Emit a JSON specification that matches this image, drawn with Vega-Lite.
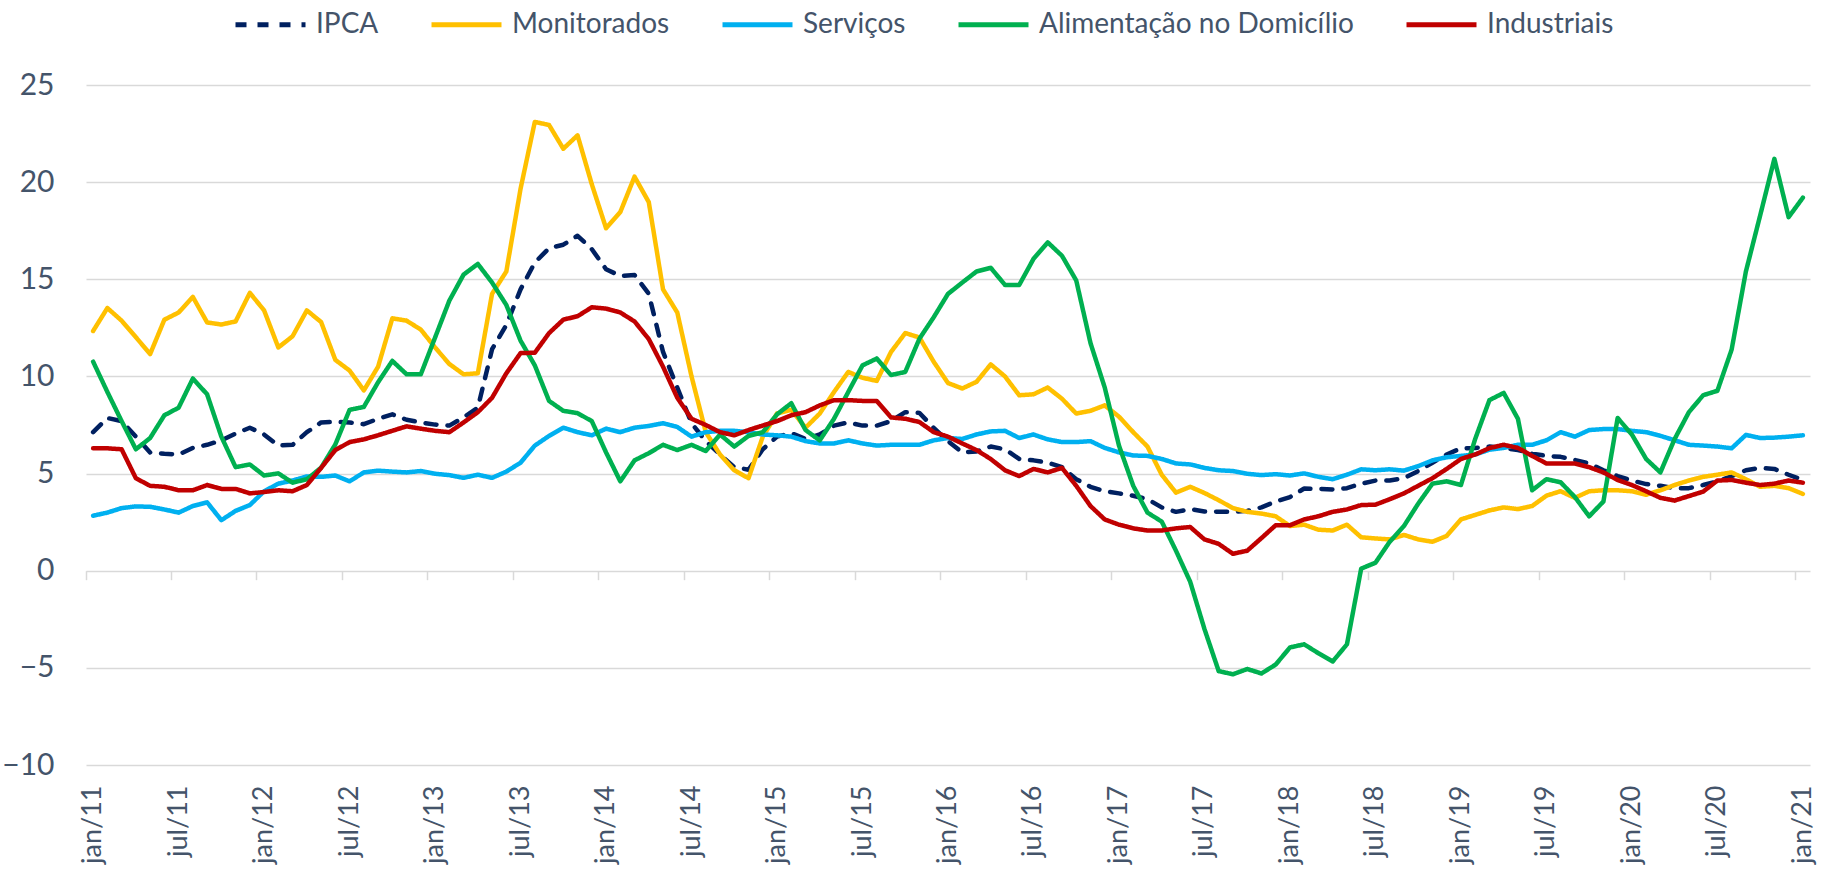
{
  "$schema": "https://vega.github.io/schema/vega-lite/v6.json",
  "width": 1724,
  "height": 680,
  "autosize": {"type": "none"},
  "padding": {"left": 86, "top": 85, "right": 14, "bottom": 107},
  "background": "white",
  "config": {"view": {"stroke": null}, "font": "Lato"},
  "data": {"values": [
    {"mes":"jan/11","IPCA":7.13,"Monitorados":12.34,"Serviços":2.83,"Alimentação no Domicílio":10.76,"Industriais":6.3},
    {"mes":"fev/11","IPCA":7.86,"Monitorados":13.52,"Serviços":2.99,"Alimentação no Domicílio":9.2,"Industriais":6.3},
    {"mes":"mar/11","IPCA":7.7,"Monitorados":12.87,"Serviços":3.22,"Alimentação no Domicílio":7.7,"Industriais":6.25},
    {"mes":"abr/11","IPCA":6.9,"Monitorados":12.02,"Serviços":3.31,"Alimentação no Domicílio":6.25,"Industriais":4.76},
    {"mes":"mai/11","IPCA":6.09,"Monitorados":11.15,"Serviços":3.29,"Alimentação no Domicílio":6.83,"Industriais":4.37},
    {"mes":"jun/11","IPCA":6.02,"Monitorados":12.92,"Serviços":3.15,"Alimentação no Domicílio":8.0,"Industriais":4.32},
    {"mes":"jul/11","IPCA":5.98,"Monitorados":13.29,"Serviços":2.99,"Alimentação no Domicílio":8.39,"Industriais":4.14},
    {"mes":"ago/11","IPCA":6.32,"Monitorados":14.09,"Serviços":3.33,"Alimentação no Domicílio":9.89,"Industriais":4.14},
    {"mes":"set/11","IPCA":6.48,"Monitorados":12.78,"Serviços":3.52,"Alimentação no Domicílio":9.08,"Industriais":4.41},
    {"mes":"out/11","IPCA":6.71,"Monitorados":12.67,"Serviços":2.6,"Alimentação no Domicílio":6.9,"Industriais":4.21},
    {"mes":"nov/11","IPCA":7.06,"Monitorados":12.83,"Serviços":3.08,"Alimentação no Domicílio":5.33,"Industriais":4.21},
    {"mes":"dez/11","IPCA":7.36,"Monitorados":14.3,"Serviços":3.38,"Alimentação no Domicílio":5.47,"Industriais":3.98},
    {"mes":"jan/12","IPCA":7.01,"Monitorados":13.4,"Serviços":4.09,"Alimentação no Domicílio":4.9,"Industriais":4.05},
    {"mes":"fev/12","IPCA":6.44,"Monitorados":11.49,"Serviços":4.48,"Alimentação no Domicílio":5.01,"Industriais":4.14},
    {"mes":"mar/12","IPCA":6.48,"Monitorados":12.07,"Serviços":4.64,"Alimentação no Domicílio":4.53,"Industriais":4.09},
    {"mes":"abr/12","IPCA":7.13,"Monitorados":13.4,"Serviços":4.85,"Alimentação no Domicílio":4.71,"Industriais":4.41},
    {"mes":"mai/12","IPCA":7.63,"Monitorados":12.8,"Serviços":4.83,"Alimentação no Domicílio":5.3,"Industriais":5.29},
    {"mes":"jun/12","IPCA":7.66,"Monitorados":10.85,"Serviços":4.9,"Alimentação no Domicílio":6.5,"Industriais":6.21},
    {"mes":"jul/12","IPCA":7.63,"Monitorados":10.3,"Serviços":4.6,"Alimentação no Domicílio":8.28,"Industriais":6.62},
    {"mes":"ago/12","IPCA":7.54,"Monitorados":9.28,"Serviços":5.06,"Alimentação no Domicílio":8.43,"Industriais":6.76},
    {"mes":"set/12","IPCA":7.82,"Monitorados":10.5,"Serviços":5.15,"Alimentação no Domicílio":9.7,"Industriais":6.97},
    {"mes":"out/12","IPCA":8.05,"Monitorados":12.99,"Serviços":5.1,"Alimentação no Domicílio":10.8,"Industriais":7.2},
    {"mes":"nov/12","IPCA":7.77,"Monitorados":12.87,"Serviços":5.06,"Alimentação no Domicílio":10.11,"Industriais":7.43},
    {"mes":"dez/12","IPCA":7.63,"Monitorados":12.41,"Serviços":5.13,"Alimentação no Domicílio":10.11,"Industriais":7.31},
    {"mes":"jan/13","IPCA":7.52,"Monitorados":11.49,"Serviços":4.99,"Alimentação no Domicílio":12.0,"Industriais":7.2},
    {"mes":"fev/13","IPCA":7.47,"Monitorados":10.64,"Serviços":4.92,"Alimentação no Domicílio":13.9,"Industriais":7.13},
    {"mes":"mar/13","IPCA":7.89,"Monitorados":10.11,"Serviços":4.78,"Alimentação no Domicílio":15.24,"Industriais":7.63},
    {"mes":"abr/13","IPCA":8.39,"Monitorados":10.16,"Serviços":4.94,"Alimentação no Domicílio":15.79,"Industriais":8.16},
    {"mes":"mai/13","IPCA":11.4,"Monitorados":14.25,"Serviços":4.78,"Alimentação no Domicílio":14.83,"Industriais":8.9},
    {"mes":"jun/13","IPCA":12.64,"Monitorados":15.4,"Serviços":5.1,"Alimentação no Domicílio":13.68,"Industriais":10.16},
    {"mes":"jul/13","IPCA":14.48,"Monitorados":19.66,"Serviços":5.56,"Alimentação no Domicílio":11.84,"Industriais":11.2},
    {"mes":"ago/13","IPCA":15.86,"Monitorados":23.1,"Serviços":6.44,"Alimentação no Domicílio":10.57,"Industriais":11.22},
    {"mes":"set/13","IPCA":16.6,"Monitorados":22.94,"Serviços":6.94,"Alimentação no Domicílio":8.74,"Industriais":12.23},
    {"mes":"out/13","IPCA":16.78,"Monitorados":21.72,"Serviços":7.36,"Alimentação no Domicílio":8.23,"Industriais":12.92},
    {"mes":"nov/13","IPCA":17.24,"Monitorados":22.41,"Serviços":7.13,"Alimentação no Domicílio":8.11,"Industriais":13.1},
    {"mes":"dez/13","IPCA":16.55,"Monitorados":19.89,"Serviços":6.97,"Alimentação no Domicílio":7.7,"Industriais":13.56},
    {"mes":"jan/14","IPCA":15.52,"Monitorados":17.63,"Serviços":7.31,"Alimentação no Domicílio":6.09,"Industriais":13.49},
    {"mes":"fev/14","IPCA":15.17,"Monitorados":18.46,"Serviços":7.13,"Alimentação no Domicílio":4.6,"Industriais":13.29},
    {"mes":"mar/14","IPCA":15.22,"Monitorados":20.28,"Serviços":7.36,"Alimentação no Domicílio":5.68,"Industriais":12.83},
    {"mes":"abr/14","IPCA":14.25,"Monitorados":18.97,"Serviços":7.45,"Alimentação no Domicílio":6.05,"Industriais":11.92},
    {"mes":"mai/14","IPCA":11.26,"Monitorados":14.48,"Serviços":7.59,"Alimentação no Domicílio":6.48,"Industriais":10.5},
    {"mes":"jun/14","IPCA":9.43,"Monitorados":13.29,"Serviços":7.4,"Alimentação no Domicílio":6.21,"Industriais":8.9},
    {"mes":"jul/14","IPCA":7.59,"Monitorados":10.0,"Serviços":6.9,"Alimentação no Domicílio":6.48,"Industriais":7.82},
    {"mes":"ago/14","IPCA":6.67,"Monitorados":7.13,"Serviços":7.13,"Alimentação no Domicílio":6.16,"Industriais":7.5},
    {"mes":"set/14","IPCA":5.98,"Monitorados":5.98,"Serviços":7.2,"Alimentação no Domicílio":7.01,"Industriais":7.13},
    {"mes":"out/14","IPCA":5.33,"Monitorados":5.17,"Serviços":7.2,"Alimentação no Domicílio":6.39,"Industriais":6.97},
    {"mes":"nov/14","IPCA":5.2,"Monitorados":4.76,"Serviços":7.13,"Alimentação no Domicílio":6.94,"Industriais":7.24},
    {"mes":"dez/14","IPCA":6.25,"Monitorados":6.9,"Serviços":7.01,"Alimentação no Domicílio":7.13,"Industriais":7.47},
    {"mes":"jan/15","IPCA":6.9,"Monitorados":8.09,"Serviços":6.97,"Alimentação no Domicílio":8.05,"Industriais":7.7},
    {"mes":"fev/15","IPCA":7.08,"Monitorados":8.28,"Serviços":6.9,"Alimentação no Domicílio":8.62,"Industriais":8.0},
    {"mes":"mar/15","IPCA":6.78,"Monitorados":7.36,"Serviços":6.67,"Alimentação no Domicílio":7.24,"Industriais":8.16},
    {"mes":"abr/15","IPCA":7.01,"Monitorados":8.09,"Serviços":6.55,"Alimentação no Domicílio":6.71,"Industriais":8.51},
    {"mes":"mai/15","IPCA":7.47,"Monitorados":9.2,"Serviços":6.55,"Alimentação no Domicílio":7.82,"Industriais":8.78},
    {"mes":"jun/15","IPCA":7.63,"Monitorados":10.23,"Serviços":6.71,"Alimentação no Domicílio":9.2,"Industriais":8.78},
    {"mes":"jul/15","IPCA":7.47,"Monitorados":9.93,"Serviços":6.55,"Alimentação no Domicílio":10.57,"Industriais":8.74},
    {"mes":"ago/15","IPCA":7.47,"Monitorados":9.77,"Serviços":6.44,"Alimentação no Domicílio":10.92,"Industriais":8.74},
    {"mes":"set/15","IPCA":7.7,"Monitorados":11.26,"Serviços":6.48,"Alimentação no Domicílio":10.07,"Industriais":7.89},
    {"mes":"out/15","IPCA":8.16,"Monitorados":12.23,"Serviços":6.48,"Alimentação no Domicílio":10.23,"Industriais":7.82},
    {"mes":"nov/15","IPCA":8.12,"Monitorados":12.0,"Serviços":6.48,"Alimentação no Domicílio":11.95,"Industriais":7.65},
    {"mes":"dez/15","IPCA":7.35,"Monitorados":10.75,"Serviços":6.71,"Alimentação no Domicílio":13.05,"Industriais":7.13},
    {"mes":"jan/16","IPCA":6.67,"Monitorados":9.66,"Serviços":6.83,"Alimentação no Domicílio":14.25,"Industriais":6.9},
    {"mes":"fev/16","IPCA":6.09,"Monitorados":9.38,"Serviços":6.78,"Alimentação no Domicílio":14.83,"Industriais":6.55},
    {"mes":"mar/16","IPCA":6.14,"Monitorados":9.72,"Serviços":7.01,"Alimentação no Domicílio":15.4,"Industriais":6.21},
    {"mes":"abr/16","IPCA":6.39,"Monitorados":10.62,"Serviços":7.17,"Alimentação no Domicílio":15.59,"Industriais":5.75},
    {"mes":"mai/16","IPCA":6.25,"Monitorados":10.0,"Serviços":7.2,"Alimentação no Domicílio":14.71,"Industriais":5.17},
    {"mes":"jun/16","IPCA":5.75,"Monitorados":9.03,"Serviços":6.83,"Alimentação no Domicílio":14.71,"Industriais":4.87},
    {"mes":"jul/16","IPCA":5.68,"Monitorados":9.08,"Serviços":7.01,"Alimentação no Domicílio":16.05,"Industriais":5.24},
    {"mes":"ago/16","IPCA":5.56,"Monitorados":9.43,"Serviços":6.76,"Alimentação no Domicílio":16.9,"Industriais":5.06},
    {"mes":"set/16","IPCA":5.33,"Monitorados":8.85,"Serviços":6.62,"Alimentação no Domicílio":16.21,"Industriais":5.29},
    {"mes":"out/16","IPCA":4.71,"Monitorados":8.09,"Serviços":6.62,"Alimentação no Domicílio":14.94,"Industriais":4.37},
    {"mes":"nov/16","IPCA":4.32,"Monitorados":8.23,"Serviços":6.67,"Alimentação no Domicílio":11.72,"Industriais":3.33},
    {"mes":"dez/16","IPCA":4.09,"Monitorados":8.51,"Serviços":6.32,"Alimentação no Domicílio":9.43,"Industriais":2.64},
    {"mes":"jan/17","IPCA":3.98,"Monitorados":7.93,"Serviços":6.09,"Alimentação no Domicílio":6.44,"Industriais":2.37},
    {"mes":"fev/17","IPCA":3.86,"Monitorados":7.13,"Serviços":5.93,"Alimentação no Domicílio":4.37,"Industriais":2.18},
    {"mes":"mar/17","IPCA":3.68,"Monitorados":6.39,"Serviços":5.91,"Alimentação no Domicílio":2.99,"Industriais":2.07},
    {"mes":"abr/17","IPCA":3.26,"Monitorados":4.94,"Serviços":5.75,"Alimentação no Domicílio":2.53,"Industriais":2.07},
    {"mes":"mai/17","IPCA":3.03,"Monitorados":4.02,"Serviços":5.52,"Alimentação no Domicílio":1.03,"Industriais":2.18},
    {"mes":"jun/17","IPCA":3.17,"Monitorados":4.32,"Serviços":5.47,"Alimentação no Domicílio":-0.57,"Industriais":2.25},
    {"mes":"jul/17","IPCA":3.05,"Monitorados":4.0,"Serviços":5.29,"Alimentação no Domicílio":-3.0,"Industriais":1.61},
    {"mes":"ago/17","IPCA":3.03,"Monitorados":3.63,"Serviços":5.17,"Alimentação no Domicílio":-5.17,"Industriais":1.38},
    {"mes":"set/17","IPCA":3.03,"Monitorados":3.22,"Serviços":5.13,"Alimentação no Domicílio":-5.33,"Industriais":0.87},
    {"mes":"out/17","IPCA":3.08,"Monitorados":3.03,"Serviços":4.99,"Alimentação no Domicílio":-5.06,"Industriais":1.03},
    {"mes":"nov/17","IPCA":3.26,"Monitorados":2.94,"Serviços":4.92,"Alimentação no Domicílio":-5.29,"Industriais":1.68},
    {"mes":"dez/17","IPCA":3.56,"Monitorados":2.8,"Serviços":4.97,"Alimentação no Domicílio":-4.83,"Industriais":2.34},
    {"mes":"jan/18","IPCA":3.79,"Monitorados":2.3,"Serviços":4.9,"Alimentação no Domicílio":-3.95,"Industriais":2.34},
    {"mes":"fev/18","IPCA":4.23,"Monitorados":2.37,"Serviços":5.01,"Alimentação no Domicílio":-3.79,"Industriais":2.64},
    {"mes":"mar/18","IPCA":4.21,"Monitorados":2.11,"Serviços":4.83,"Alimentação no Domicílio":-4.25,"Industriais":2.8},
    {"mes":"abr/18","IPCA":4.18,"Monitorados":2.07,"Serviços":4.71,"Alimentação no Domicílio":-4.67,"Industriais":3.03},
    {"mes":"mai/18","IPCA":4.25,"Monitorados":2.37,"Serviços":4.94,"Alimentação no Domicílio":-3.79,"Industriais":3.15},
    {"mes":"jun/18","IPCA":4.48,"Monitorados":1.72,"Serviços":5.22,"Alimentação no Domicílio":0.11,"Industriais":3.38},
    {"mes":"jul/18","IPCA":4.64,"Monitorados":1.66,"Serviços":5.17,"Alimentação no Domicílio":0.41,"Industriais":3.4},
    {"mes":"ago/18","IPCA":4.64,"Monitorados":1.61,"Serviços":5.22,"Alimentação no Domicílio":1.49,"Industriais":3.68},
    {"mes":"set/18","IPCA":4.76,"Monitorados":1.84,"Serviços":5.15,"Alimentação no Domicílio":2.3,"Industriais":3.98},
    {"mes":"out/18","IPCA":5.13,"Monitorados":1.61,"Serviços":5.38,"Alimentação no Domicílio":3.45,"Industriais":4.37},
    {"mes":"nov/18","IPCA":5.56,"Monitorados":1.49,"Serviços":5.68,"Alimentação no Domicílio":4.48,"Industriais":4.76},
    {"mes":"dez/18","IPCA":5.98,"Monitorados":1.79,"Serviços":5.84,"Alimentação no Domicílio":4.6,"Industriais":5.24},
    {"mes":"jan/19","IPCA":6.3,"Monitorados":2.64,"Serviços":5.91,"Alimentação no Domicílio":4.41,"Industriais":5.75},
    {"mes":"fev/19","IPCA":6.32,"Monitorados":2.87,"Serviços":5.98,"Alimentação no Domicílio":6.78,"Industriais":5.98},
    {"mes":"mar/19","IPCA":6.39,"Monitorados":3.1,"Serviços":6.23,"Alimentação no Domicílio":8.78,"Industriais":6.31},
    {"mes":"abr/19","IPCA":6.32,"Monitorados":3.26,"Serviços":6.32,"Alimentação no Domicílio":9.15,"Industriais":6.48},
    {"mes":"mai/19","IPCA":6.21,"Monitorados":3.17,"Serviços":6.48,"Alimentação no Domicílio":7.82,"Industriais":6.32},
    {"mes":"jun/19","IPCA":6.02,"Monitorados":3.33,"Serviços":6.48,"Alimentação no Domicílio":4.14,"Industriais":5.91},
    {"mes":"jul/19","IPCA":5.91,"Monitorados":3.86,"Serviços":6.71,"Alimentação no Domicílio":4.71,"Industriais":5.52},
    {"mes":"ago/19","IPCA":5.86,"Monitorados":4.09,"Serviços":7.13,"Alimentação no Domicílio":4.55,"Industriais":5.52},
    {"mes":"set/19","IPCA":5.7,"Monitorados":3.75,"Serviços":6.9,"Alimentação no Domicílio":3.79,"Industriais":5.52},
    {"mes":"out/19","IPCA":5.52,"Monitorados":4.09,"Serviços":7.24,"Alimentação no Domicílio":2.8,"Industriais":5.33},
    {"mes":"nov/19","IPCA":5.17,"Monitorados":4.14,"Serviços":7.29,"Alimentação no Domicílio":3.56,"Industriais":5.06},
    {"mes":"dez/19","IPCA":4.87,"Monitorados":4.14,"Serviços":7.29,"Alimentação no Domicílio":7.86,"Industriais":4.67},
    {"mes":"jan/20","IPCA":4.64,"Monitorados":4.09,"Serviços":7.2,"Alimentação no Domicílio":7.01,"Industriais":4.41},
    {"mes":"fev/20","IPCA":4.46,"Monitorados":3.91,"Serviços":7.13,"Alimentação no Domicílio":5.75,"Industriais":4.09},
    {"mes":"mar/20","IPCA":4.37,"Monitorados":4.14,"Serviços":6.94,"Alimentação no Domicílio":5.06,"Industriais":3.75},
    {"mes":"abr/20","IPCA":4.25,"Monitorados":4.41,"Serviços":6.71,"Alimentação no Domicílio":6.78,"Industriais":3.61},
    {"mes":"mai/20","IPCA":4.25,"Monitorados":4.64,"Serviços":6.48,"Alimentação no Domicílio":8.16,"Industriais":3.84},
    {"mes":"jun/20","IPCA":4.41,"Monitorados":4.83,"Serviços":6.44,"Alimentação no Domicílio":9.03,"Industriais":4.07},
    {"mes":"jul/20","IPCA":4.6,"Monitorados":4.94,"Serviços":6.39,"Alimentação no Domicílio":9.26,"Industriais":4.64},
    {"mes":"ago/20","IPCA":4.87,"Monitorados":5.06,"Serviços":6.3,"Alimentação no Domicílio":11.38,"Industriais":4.67},
    {"mes":"set/20","IPCA":5.17,"Monitorados":4.71,"Serviços":6.99,"Alimentação no Domicílio":15.4,"Industriais":4.53},
    {"mes":"out/20","IPCA":5.29,"Monitorados":4.32,"Serviços":6.83,"Alimentação no Domicílio":18.28,"Industriais":4.41},
    {"mes":"nov/20","IPCA":5.24,"Monitorados":4.37,"Serviços":6.85,"Alimentação no Domicílio":21.2,"Industriais":4.48},
    {"mes":"dez/20","IPCA":4.94,"Monitorados":4.25,"Serviços":6.9,"Alimentação no Domicílio":18.2,"Industriais":4.64},
    {"mes":"jan/21","IPCA":4.67,"Monitorados":3.95,"Serviços":6.97,"Alimentação no Domicílio":19.2,"Industriais":4.53}
  ]},
  "transform": [
    {"fold": ["IPCA", "Monitorados", "Serviços", "Alimentação no Domicílio", "Industriais"], "as": ["serie", "valor"]}
  ],
  "layer": [
    {
      "mark": {"type": "point", "opacity": 0},
      "encoding": {
        "x": {
          "field": "mes", "type": "ordinal", "sort": null,
          "scale": {"type": "band", "paddingInner": 0, "paddingOuter": 0},
          "axis": {
            "orient": "bottom", "title": null, "bandPosition": 0,
            "values": ["jan/11","jul/11","jan/12","jul/12","jan/13","jul/13","jan/14","jul/14","jan/15","jul/15","jan/16","jul/16","jan/17","jul/17","jan/18","jul/18","jan/19","jul/19","jan/20","jul/20","jan/21"],
            "labels": false, "ticks": true, "tickSize": 9, "tickColor": "#D9D9D9", "tickWidth": 1.5,
            "domain": false, "grid": false, "offset": -194.3
          }
        }
      }
    },
    {
      "mark": {"type": "line", "strokeWidth": 4.5, "strokeCap": "round", "strokeJoin": "round"},
      "encoding": {
        "x": {
          "field": "mes", "type": "ordinal", "sort": null, "bandPosition": 0.5,
          "scale": {"type": "band", "paddingInner": 0, "paddingOuter": 0},
          "axis": {
            "orient": "bottom", "title": null,
            "values": ["jan/11","jul/11","jan/12","jul/12","jan/13","jul/13","jan/14","jul/14","jan/15","jul/15","jan/16","jul/16","jan/17","jul/17","jan/18","jul/18","jan/19","jul/19","jan/20","jul/20","jan/21"],
            "ticks": false, "domain": false, "grid": false,
            "labelAngle": -90, "labelFontSize": 27, "labelColor": "#44546A", "labelPadding": 20,
            "labelOverlap": false, "labelFont": "Lato"
          }
        },
        "y": {
          "field": "valor", "type": "quantitative",
          "scale": {"domain": [-10, 25], "nice": false, "zero": false},
          "axis": {
            "title": null, "values": [-10, -5, 0, 5, 10, 15, 20, 25],
            "domain": false, "ticks": false, "grid": true, "gridColor": "#D9D9D9", "gridWidth": 1.5,
            "labelFontSize": 30, "labelColor": "#44546A", "labelPadding": 32, "labelFont": "Lato"
          }
        },
        "color": {
          "field": "serie", "type": "nominal",
          "scale": {
            "domain": ["IPCA", "Monitorados", "Serviços", "Alimentação no Domicílio", "Industriais"],
            "range": ["#002060", "#FFC000", "#00B0F0", "#00B050", "#C00000"]
          },
          "legend": {
            "title": null, "orient": "none", "direction": "horizontal", "legendX": 147, "legendY": -98,
            "symbolType": "stroke", "symbolSize": 4900, "symbolStrokeWidth": 5,
            "labelFontSize": 28, "labelColor": "#44546A", "labelFont": "Lato", "labelOffset": 8,
            "labelLimit": 600, "columnPadding": 42
          }
        },
        "strokeDash": {
          "field": "serie", "type": "nominal",
          "scale": {
            "domain": ["IPCA", "Monitorados", "Serviços", "Alimentação no Domicílio", "Industriais"],
            "range": [[11, 11], [1, 0], [1, 0], [1, 0], [1, 0]]
          },
          "legend": {
            "title": null, "orient": "none", "direction": "horizontal", "legendX": 147, "legendY": -98,
            "symbolType": "stroke", "symbolSize": 4900, "symbolStrokeWidth": 5,
            "labelFontSize": 28, "labelColor": "#44546A", "labelFont": "Lato", "labelOffset": 8,
            "labelLimit": 600, "columnPadding": 42
          }
        }
      }
    }
  ],
  "resolve": {"axis": {"x": "independent"}}
}
